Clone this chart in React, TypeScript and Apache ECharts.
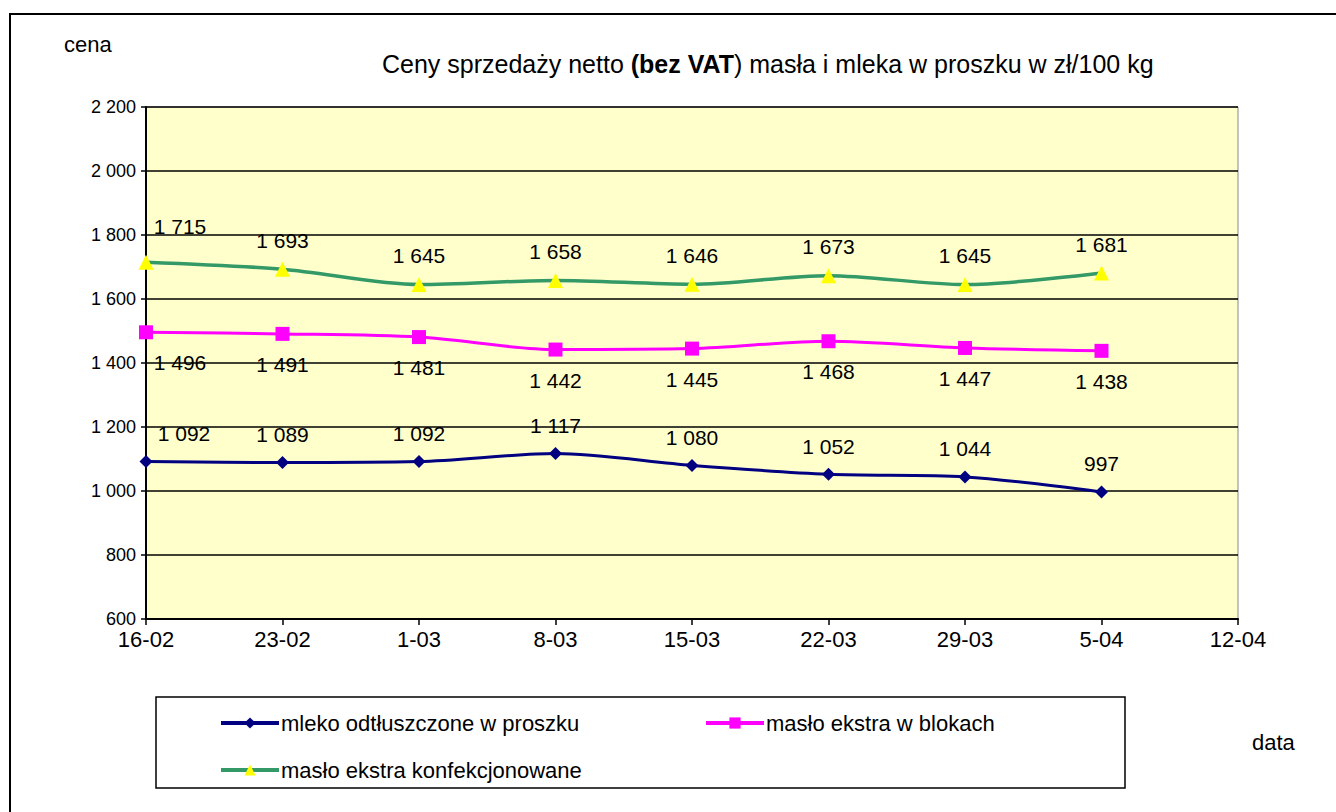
import React, { useEffect, useRef } from "react";
import * as echarts from "echarts";

const dates = ["16-02", "23-02", "1-03", "8-03", "15-03", "22-03", "29-03", "5-04", "12-04"];
const mleko = [1092, 1089, 1092, 1117, 1080, 1052, 1044, 997];
const blokach = [1496, 1491, 1481, 1442, 1445, 1468, 1447, 1438];
const konfek = [1715, 1693, 1645, 1658, 1646, 1673, 1645, 1681];
const seriesNames = ["mleko odtłuszczone w proszku", "masło ekstra w blokach", "masło ekstra konfekcjonowane"];

const fmt = (v: number) => {
  const s = String(Math.round(v));
  return s.length > 3 ? s.slice(0, s.length - 3) + " " + s.slice(-3) : s;
};

const FONT = "Liberation Sans, Arial, sans-serif";

function withFirstOffset(vals: number[], off: [number, number]) {
  return vals.map((v, i) => (i === 0 ? { value: v, label: { offset: off } } : v));
}

export default function App() {
  const ref = useRef<HTMLDivElement>(null);
  useEffect(() => {
    if (!ref.current) return;
    const chart = echarts.init(ref.current, null, { renderer: "svg" });
    const labelBase = {
      show: true,
      fontFamily: FONT,
      fontSize: 21,
      color: "#000",
      formatter: (p: any) => fmt(p.value),
    };
    chart.setOption({
      animation: false,
      backgroundColor: "#fff",
      textStyle: { fontFamily: FONT },
      title: {
        text: "{n|Ceny sprzedaży netto }{b|(bez VAT}{n|) masła i mleka w proszku w zł/100 kg}",
        left: 377,
        top: 46,
        textStyle: {
          fontWeight: "normal",
          rich: {
            n: { fontFamily: FONT, fontSize: 25, fontWeight: "normal", color: "#000" },
            b: { fontFamily: FONT, fontSize: 25, fontWeight: "bold", color: "#000" },
          },
        },
      },
      grid: {
        left: 146,
        top: 107,
        right: 98,
        bottom: 193,
        show: true,
        backgroundColor: "#FFFFCC",
        borderColor: "#888",
        borderWidth: 1,
      },
      legend: [
        { data: [seriesNames[0]], left: 214, top: 707 },
        { data: [seriesNames[1]], left: 699, top: 707 },
        { data: [seriesNames[2]], left: 214, top: 754 },
      ].map((l) => ({
        ...l,
        itemWidth: 58,
        itemHeight: 14,
        itemGap: 4,
        lineStyle: { width: 4 },
        textStyle: { fontFamily: FONT, fontSize: 22, color: "#000", padding: [0, 0, 0, -3] },
        selectedMode: false,
      })),
      xAxis: {
        type: "category",
        data: dates,
        boundaryGap: false,
        axisLine: { lineStyle: { color: "#000", width: 2 } },
        axisTick: { show: true, length: 6, lineStyle: { color: "#000", width: 1.5 } },
        axisLabel: { fontFamily: FONT, fontSize: 22, color: "#000", margin: 9 },
        splitLine: { show: false },
      },
      yAxis: {
        type: "value",
        min: 600,
        max: 2200,
        interval: 200,
        axisLine: { show: true, lineStyle: { color: "#000", width: 2 } },
        axisTick: { show: true, length: 5, lineStyle: { color: "#000", width: 1.5 } },
        axisLabel: { fontFamily: FONT, fontSize: 18, color: "#000", margin: 10, formatter: (v: number) => fmt(v) },
        splitLine: { show: true, lineStyle: { color: "#000", width: 1.5 } },
      },
      graphic: [
        {
          type: "rect",
          shape: { x: 10, y: 14, width: 1340, height: 820 },
          style: { fill: "none", stroke: "#000", lineWidth: 2 },
          z: 100,
        },
        {
          type: "rect",
          shape: { x: 156, y: 697, width: 969, height: 91 },
          style: { fill: "none", stroke: "#000", lineWidth: 1.5 },
          z: 100,
        },
        {
          type: "text",
          left: 64,
          top: 33,
          style: { text: "cena", fontFamily: FONT, fontSize: 22, fill: "#000" },
        },
        {
          type: "text",
          left: 1252,
          top: 731,
          style: { text: "data", fontFamily: FONT, fontSize: 22, fill: "#000" },
        },
      ],
      series: [
        {
          name: seriesNames[0],
          type: "line",
          smooth: 0.3,
          data: withFirstOffset(mleko, [38, 0]),
          symbol: "diamond",
          symbolSize: 13,
          itemStyle: { color: "#000080" },
          lineStyle: { color: "#000080", width: 3 },
          label: { ...labelBase, position: "top", distance: 11 },
        },
        {
          name: seriesNames[1],
          type: "line",
          smooth: 0.3,
          data: withFirstOffset(blokach, [34, 0]),
          symbol: "rect",
          symbolSize: 14,
          itemStyle: { color: "#FF00FF" },
          lineStyle: { color: "#FF00FF", width: 3 },
          label: { ...labelBase, position: "bottom", distance: 13 },
        },
        {
          name: seriesNames[2],
          type: "line",
          smooth: 0.3,
          data: withFirstOffset(konfek, [34, -7]),
          symbol: "triangle",
          symbolSize: 15,
          itemStyle: { color: "#FFFF00" },
          lineStyle: { color: "#339966", width: 3.5 },
          label: { ...labelBase, position: "top", distance: 11 },
        },
      ],
    });
    return () => chart.dispose();
  }, []);
  return <div ref={ref} style={{ position: "fixed", left: 0, top: 0, width: 1336, height: 812 }} />;
}
